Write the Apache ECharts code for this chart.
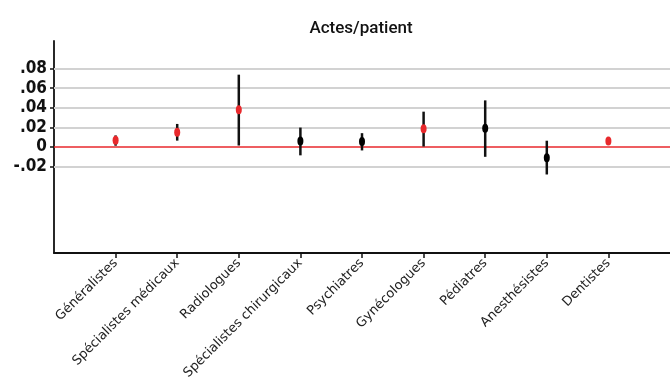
<!DOCTYPE html>
<html>
<head>
<meta charset="utf-8">
<script src="https://cdn.jsdelivr.net/npm/echarts@6/dist/echarts.min.js"></script>
<style>html,body{margin:0;padding:0;background:#fff;}#c{width:670px;height:385px;}</style>
</head>
<body>
<div id="c"></div>
<script>
const categories = ['Généralistes','Spécialistes médicaux','Radiologues','Spécialistes chirurgicaux','Psychiatres','Gynécologues','Pédiatres','Anesthésistes','Dentistes'];
const estimates = [0.007, 0.015, 0.038, 0.006, 0.0055, 0.0185, 0.019, -0.011, 0.006];
const ciLow    = [0.0013, 0.0065, 0.0015, -0.0085, -0.0035, 0.0005, -0.010, -0.028, 0.0045];
const ciHigh   = [0.0118, 0.0235, 0.0737, 0.0198, 0.0141, 0.036, 0.0475, 0.0064, 0.0075];
const significant = [true, true, true, false, false, true, false, false, true];
const yTicks = [-0.02, 0, 0.02, 0.04, 0.06, 0.08];
const yTickLabels = ['-.02', '0', '.02', '.04', '.06', '.08'];

const RED = '#e8292c';
const xPos = categories.map((c, i) => i + 1);

const chart = echarts.init(document.getElementById('c'));
chart.setOption({
  animation: false,
  textStyle: { fontFamily: 'DejaVu Sans' },
  title: {
    text: 'Actes/patient', left: 356, top: 15, textAlign: 'center',
    textStyle: { fontFamily: 'Roboto', fontWeight: 500, fontSize: 17, color: '#111' }
  },
  grid: { left: 54, right: 0, top: 41, bottom: 132 },
  xAxis: {
    type: 'value', min: 0, max: 10, interval: 1,
    axisLine: { show: true, onZero: false, lineStyle: { color: '#111', width: 1.8 } },
    axisTick: { show: true, length: 5, customValues: xPos, lineStyle: { color: '#111', width: 1.5 } },
    axisLabel: {
      customValues: xPos, rotate: 45, margin: 8,
      fontFamily: 'DejaVu Sans', fontSize: 13, color: '#222',
      formatter: v => categories[Math.round(v) - 1] || ''
    },
    splitLine: { show: false }
  },
  yAxis: {
    type: 'value', min: -0.108, max: 0.108,
    axisLine: { show: true, onZero: false, lineStyle: { color: '#111', width: 1.8 } },
    axisTick: { show: true, length: 4, customValues: yTicks, lineStyle: { color: '#111', width: 1.5 } },
    axisLabel: {
      customValues: yTicks, margin: 7,
      fontFamily: 'DejaVu Sans Condensed', fontWeight: 'bold', fontSize: 17, color: '#111',
      formatter: v => { const i = yTicks.findIndex(t => Math.abs(t - v) < 1e-9); return i >= 0 ? yTickLabels[i] : ''; }
    },
    splitLine: { show: false }
  },
  series: [
    {
      type: 'line', data: [], silent: true, z: 1,
      markLine: {
        silent: true, symbol: 'none', label: { show: false }, animation: false, z: 1,
        data: yTicks.map(v => ({ yAxis: v, lineStyle: { color: v === 0 ? RED : '#d2d2d2', width: v === 0 ? 1.6 : 2, type: 'solid' } }))
      }
    },
    {
      type: 'custom', z: 3, silent: true,
      data: xPos.map((x, i) => [x, ciLow[i], ciHigh[i]]),
      renderItem: (params, api) => {
        const p1 = api.coord([api.value(0), api.value(1)]);
        const p2 = api.coord([api.value(0), api.value(2)]);
        return { type: 'line', shape: { x1: p1[0], y1: p1[1], x2: p2[0], y2: p2[1] }, style: { stroke: '#111', lineWidth: 2.5 } };
      }
    },
    {
      type: 'scatter', z: 4, symbol: 'circle', symbolSize: [6, 9], silent: true,
      data: xPos.map((x, i) => ({ value: [x, estimates[i]], itemStyle: { color: significant[i] ? RED : '#000', opacity: 1, borderWidth: 0 } }))
    }
  ]
});
</script>
</body>
</html>
